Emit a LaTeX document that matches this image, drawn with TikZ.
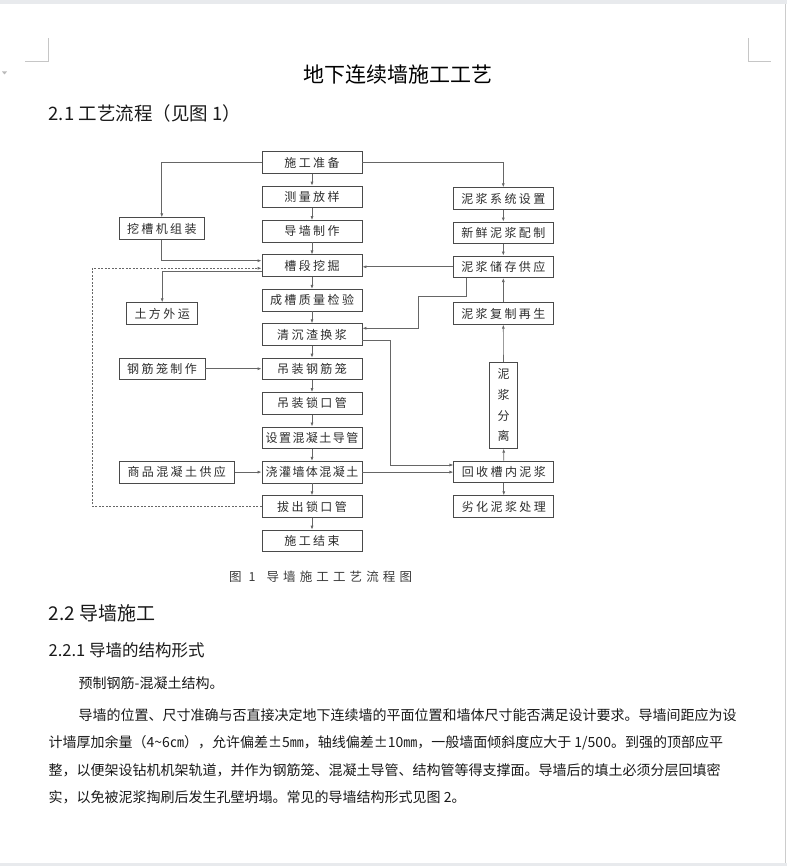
\documentclass[tikz,border=0pt]{standalone}
\usepackage{fontspec}
\setmainfont{Noto Sans CJK SC}
\newfontfamily\chartfont[LetterSpace=20]{Noto Sans CJK SC}
\newfontfamily\tightfont[LetterSpace=12]{Noto Sans CJK SC}
\newfontfamily\capfont[LetterSpace=33]{Noto Sans CJK SC}
\usetikzlibrary{arrows.meta}
\definecolor{boxc}{HTML}{4A4A4A}
\definecolor{lnc}{HTML}{666666}
\definecolor{txtc}{HTML}{2C2C2C}
\definecolor{capc}{HTML}{3A3A3A}
\definecolor{pagec}{HTML}{E8EAED}
\begin{document}
\begin{tikzpicture}[x=1pt, y=-1pt, every node/.style={inner sep=0pt},
  b/.style={draw=boxc, line width=0.8pt, minimum height=21.6pt, minimum width=100pt, text=txtc, font=\chartfont\fontsize{12}{12}\selectfont},
  bt/.style={b, font=\tightfont\fontsize{12}{12}\selectfont},
  ln/.style={draw=lnc, line width=0.7pt, -{Latex[length=4pt,width=3pt]}},
  txt/.style={anchor=west, text=black!90, font=\fontsize{14}{14}\selectfont}]
\useasboundingbox (0,0) rectangle (787,866);
% page
\fill[pagec] (0,0) rectangle (787,4.5);
\fill[pagec] (0,862.5) rectangle (787,866);
\draw[gray!40] (785.5,4.5) -- (785.5,862.5);
\draw[gray!45] (25,61.7) -- (48.3,61.7) -- (48.3,38.3);
\draw[gray!45] (748.5,38.3) -- (748.5,61.7) -- (771,61.7);
\fill[gray!55] (2,71.5) -- (7,71.5) -- (4.5,74.5) -- cycle;
\node[font=\fontsize{21}{21}\selectfont] (title) at (397.5,75) {地下连续墙施工工艺};
\node[txt, font=\fontsize{18.5}{18.5}\selectfont] (h21) at (48.5,113) {2.1 工艺流程（见图 1）};
% main column
\node[b] (prep) at (312,162.5) {施工准备};
\node[b] (survey) at (312,196.9) {测量放样};
\node[b] (guide) at (312,231.3) {导墙制作};
\node[b] (dig) at (312,265.7) {槽段挖掘};
\node[b] (check) at (312,300.1) {成槽质量检验};
\node[b] (clean) at (312,334.5) {清沉渣换浆};
\node[b] (hang) at (312,368.9) {吊装钢筋笼};
\node[b] (lockp) at (312,403.3) {吊装锁口管};
\node[bt] (tremie) at (312,437.7) {设置混凝土导管};
\node[bt] (pour) at (312,472.1) {浇灌墙体混凝土};
\node[b] (pull) at (312,506.5) {拔出锁口管};
\node[b] (finish) at (312,540.9) {施工结束};
\draw[ln] (prep) -- (survey); \draw[ln] (survey) -- (guide); \draw[ln] (guide) -- (dig);
\draw[ln] (dig) -- (check); \draw[ln] (check) -- (clean); \draw[ln] (clean) -- (hang);
\draw[ln] (hang) -- (lockp); \draw[ln] (lockp) -- (tremie); \draw[ln] (tremie) -- (pour);
\draw[ln] (pour) -- (pull); \draw[ln] (pull) -- (finish);
% left column
\node[b, minimum width=85pt] (assemble) at (161.8,228.5) {挖槽机组装};
\node[b, minimum width=71pt] (haul) at (162.2,313.5) {土方外运};
\node[b, minimum width=86pt] (cage) at (162,368.7) {钢筋笼制作};
\node[b, minimum width=115pt] (concrete) at (176.7,472.1) {商品混凝土供应};
\draw[ln] (prep.west) -| (assemble.north);
\draw[ln] (assemble.south) |- ([yshift=5pt]dig.west);
\draw[ln] ([yshift=-5.3pt]dig.west) -| (haul.north);
\draw[ln] (cage.east) -- (cage.east -| hang.west);
\draw[ln] (concrete.east) -- (concrete.east -| pour.west);
\coordinate (loopx) at (92.3,0);
\draw[ln, dash pattern=on 2pt off 1.5pt] (pull.west) -- (pull.west -| loopx) |- ([yshift=-2.6pt]dig.west);
% slurry column
\node[b] (slurrysys) at (503.3,198.5) {泥浆系统设置};
\node[b] (fresh) at (503.3,232.8) {新鲜泥浆配制};
\node[b] (store) at (503.3,266.8) {泥浆储存供应};
\node[b] (regen) at (503.3,313.5) {泥浆复制再生};
\node[b, minimum width=28.5pt, minimum height=86pt, align=center, font=\fontsize{12}{20.7}\selectfont] (separate) at (503.5,405.3) {泥\\浆\\分\\离};
\node[b] (recover) at (503.8,471.8) {回收槽内泥浆};
\node[b] (waste) at (503.8,506.5) {劣化泥浆处理};
\draw[ln] (prep.east) -| (slurrysys.north);
\draw[ln] (slurrysys) -- (fresh); \draw[ln] (fresh) -- (store);
\draw[ln] (store.west) -- (dig.east |- store.west);
\coordinate (sk) at (418.3,296.7);
\draw[ln] ([xshift=-36.6pt]store.south) |- (sk) |- ([yshift=6.2pt]clean.east);
\draw[ln] (regen) -- (store); \draw[ln] (separate) -- (regen);
\draw[ln] (recover) -- (separate); \draw[ln] (recover) -- (waste);
\coordinate (rk) at (390,465);
\draw[ln] ([yshift=-6.3pt]clean.east) -| (rk) -- (rk -| recover.west);
\draw[ln] (pour.east) -- (pour.east -| recover.west);
\node[anchor=west, text=capc, font=\capfont\fontsize{12.5}{12.5}\selectfont] (cap) at (229,576.5) {图 1\hspace{11pt}导墙施工工艺流程图};
% text below
\node[txt, font=\fontsize{19}{19}\selectfont] (h22) at (48.5,613) {2.2 导墙施工};
\node[txt, font=\fontsize{16.5}{16.5}\selectfont] (h221) at (48.5,650) {2.2.1 导墙的结构形式};
\node[txt] (p0) at (78.5,683) {预制钢筋-混凝土结构。};
\node[txt] (p1) at (78.5,715) {导墙的位置、尺寸准确与否直接决定地下连续墙的平面位置和墙体尺寸能否满足设计要求。导墙间距应为设};
\node[txt] (p2) at (48.5,743) {计墙厚加余量（4\textasciitilde6㎝），允许偏差±5㎜，轴线偏差±10㎜，一般墙面倾斜度应大于 1/500。到强的顶部应平};
\node[txt] (p3) at (48.5,770) {整，以便架设钻机机架轨道，并作为钢筋笼、混凝土导管、结构管等得支撑面。导墙后的填土必须分层回填密};
\node[txt] (p4) at (48.5,797) {实，以免被泥浆掏刷后发生孔壁坍塌。常见的导墙结构形式见图 2。};
\end{tikzpicture}
\end{document}
